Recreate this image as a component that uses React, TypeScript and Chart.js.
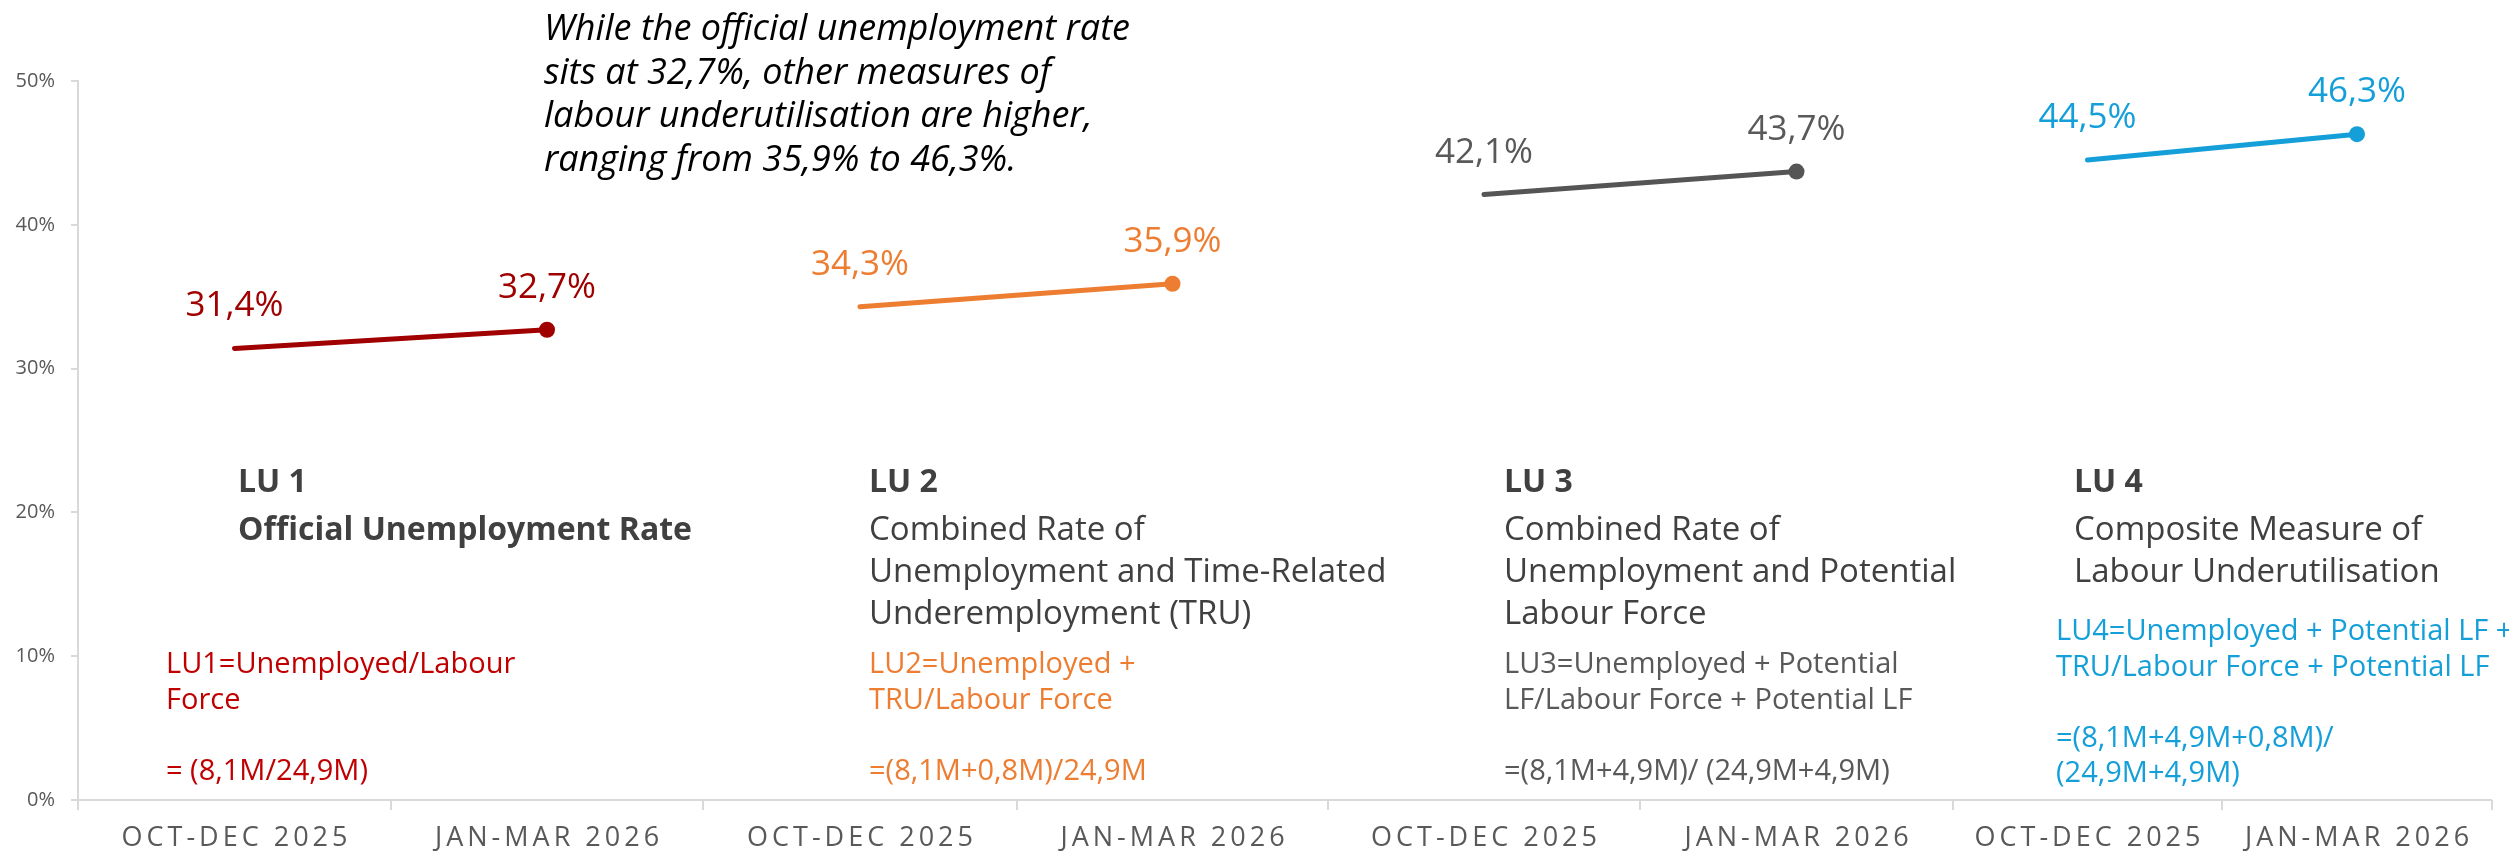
import React, { useEffect, useRef } from 'react';
import { Chart, CategoryScale, registerables } from 'chart.js';

// ---------------- data ----------------
const categories = [
  'OCT-DEC 2025', 'JAN-MAR 2026',
  'OCT-DEC 2025', 'JAN-MAR 2026',
  'OCT-DEC 2025', 'JAN-MAR 2026',
  'OCT-DEC 2025', 'JAN-MAR 2026',
];
const lu1Values = [31.4, 32.7, null, null, null, null, null, null];
const lu2Values = [null, null, 34.3, 35.9, null, null, null, null];
const lu3Values = [null, null, null, null, 42.1, 43.7, null, null];
const lu4Values = [null, null, null, null, null, null, 44.5, 46.3];
const yTickValues = [0, 10, 20, 30, 40, 50];

const seriesNames = ['LU 1', 'LU 2', 'LU 3', 'LU 4'];
const seriesSubtitles = [
  ['Official Unemployment Rate'],
  ['Combined Rate of', 'Unemployment and Time-Related', 'Underemployment (TRU)'],
  ['Combined Rate of', 'Unemployment and Potential', 'Labour Force'],
  ['Composite Measure of', 'Labour Underutilisation'],
];
const seriesFormulas = [
  ['LU1=Unemployed/Labour', 'Force', '', '= (8,1M/24,9M)'],
  ['LU2=Unemployed +', 'TRU/Labour Force', '', '=(8,1M+0,8M)/24,9M'],
  ['LU3=Unemployed + Potential', 'LF/Labour Force + Potential LF', '', '=(8,1M+4,9M)/ (24,9M+4,9M)'],
  ['LU4=Unemployed + Potential LF +', 'TRU/Labour Force + Potential LF', '', '=(8,1M+4,9M+0,8M)/', '(24,9M+4,9M)'],
];
const annotationLines = [
  'While the official unemployment rate',
  'sits at 32,7%, other measures of',
  'labour underutilisation are higher,',
  'ranging from 35,9% to 46,3%.',
];

// ---------------- styles / layout ----------------
const FONT = '"Open Sans", "Noto Sans", sans-serif';
const lineColors = ['#a00000', '#ed7d31', '#555555', '#149fd9'];
const valueLabelColors = ['#a00000', '#ed7d31', '#595959', '#149fd9'];
const formulaColors = ['#c00000', '#ed7d31', '#595959', '#149fd9'];
const titleColor = '#404040';
const axisColor = '#d9d9d9';
const tickLabelColor = '#595959';
// relative widths of the 8 category slots (last panel is narrower)
const slotWeights = [313, 312, 314, 311, 312, 313, 269, 270];

// text block layout (canvas px)
const titleX = [238, 869, 1504, 2074];
const titleYs = [
  [483, 531],
  [483, 531, 573, 615],
  [483, 531, 573, 615],
  [483, 531, 573],
];
const formulaX = [166, 869, 1504, 2056];
const formulaTop = [665, 665, 665, 632];
const formulaStep = 35.5;
const annotationX = 544;
const annotationY0 = 30;
const annotationStep = 43.5;

class PanelCategoryScale extends CategoryScale {
  static id = 'panelCategory';
  static defaults = CategoryScale.defaults;
  getPixelForDecimal(decimal: number) {
    const w = slotWeights;
    const n = w.length;
    const total = w.reduce((a, b) => a + b, 0);
    const pos = decimal * n;
    const k = Math.min(n - 1, Math.max(0, Math.floor(pos)));
    let cum = 0;
    for (let i = 0; i < k; i++) cum += w[i];
    const u = (cum + (pos - k) * w[k]) / total;
    const self: any = this;
    return self._startPixel + u * self._length;
  }
}

Chart.register(...registerables, PanelCategoryScale);

const fmt = (v: number) => v.toFixed(1).replace('.', ',') + '%';

const overlayPlugin = {
  id: 'overlay',
  afterDatasetsDraw(chart: any) {
    const ctx = chart.ctx;
    const area = chart.chartArea;
    const xs = chart.scales.x;
    ctx.save();
    // x axis line + panel boundary ticks
    ctx.strokeStyle = axisColor;
    ctx.lineWidth = 2;
    ctx.beginPath();
    ctx.moveTo(area.left, area.bottom);
    ctx.lineTo(area.right, area.bottom);
    const n = categories.length;
    for (let k = 0; k <= n; k++) {
      const px = Math.round(xs.getPixelForDecimal(k / n));
      ctx.moveTo(px, area.bottom);
      ctx.lineTo(px, area.bottom + 10);
    }
    ctx.stroke();

    // x labels
    ctx.fillStyle = tickLabelColor;
    ctx.font = `27px ${FONT}`;
    (ctx as any).letterSpacing = '4px';
    ctx.textAlign = 'center';
    ctx.textBaseline = 'middle';
    categories.forEach((c, i) => {
      ctx.fillText(c, xs.getPixelForValue(i) + 2, area.bottom + 38);
    });
    (ctx as any).letterSpacing = '0px';

    // value labels
    ctx.font = `35px ${FONT}`;
    chart.data.datasets.forEach((ds: any, di: number) => {
      const meta = chart.getDatasetMeta(di);
      ds.data.forEach((v: number | null, i: number) => {
        if (v === null) return;
        const el = meta.data[i];
        ctx.fillStyle = valueLabelColors[di];
        ctx.fillText(fmt(v), el.x, el.y - 42);
      });
    });

    // titles
    ctx.textAlign = 'left';
    seriesNames.forEach((name, si) => {
      const ys = titleYs[si];
      ctx.fillStyle = titleColor;
      ctx.font = `bold 32px ${FONT}`;
      ctx.fillText(name, titleX[si], ys[0]);
      ctx.font = si === 0 ? `bold 32px ${FONT}` : `33px ${FONT}`;
      seriesSubtitles[si].forEach((line, li) => {
        ctx.fillText(line, titleX[si], ys[li + 1]);
      });
    });

    // formulas
    ctx.font = `29px ${FONT}`;
    seriesFormulas.forEach((lines, si) => {
      ctx.fillStyle = formulaColors[si];
      lines.forEach((line, li) => {
        if (!line) return;
        ctx.fillText(line, formulaX[si], formulaTop[si] + li * formulaStep);
      });
    });

    // annotation
    ctx.fillStyle = '#000000';
    ctx.font = `italic 36px ${FONT}`;
    annotationLines.forEach((line, li) => {
      ctx.fillText(line, annotationX, annotationY0 + li * annotationStep);
    });
    ctx.restore();
  },
};

export default function App() {
  const ref = useRef<HTMLCanvasElement | null>(null);
  useEffect(() => {
    document.body.style.margin = '0';
    const canvas = ref.current!;
    const series = [lu1Values, lu2Values, lu3Values, lu4Values];
    const chart = new Chart(canvas, {
      type: 'line',
      data: {
        labels: categories,
        datasets: series.map((vals, si) => ({
          label: seriesNames[si],
          data: vals,
          borderColor: lineColors[si],
          backgroundColor: lineColors[si],
          pointBackgroundColor: lineColors[si],
          borderWidth: 5,
          borderCapStyle: 'round',
          pointBorderWidth: 0,
          pointRadius: (c: any) => {
            const d = c.dataset.data;
            let last = -1;
            d.forEach((v: any, i: number) => { if (v !== null) last = i; });
            return c.dataIndex === last ? 8 : 0;
          },
          spanGaps: false,
          tension: 0,
        })),
      },
      options: {
        responsive: false,
        maintainAspectRatio: false,
        animation: false,
        layout: { padding: { top: 81, right: 17, bottom: 56, left: 0 } },
        plugins: { legend: { display: false }, tooltip: { enabled: false } },
        scales: {
          x: {
            type: 'panelCategory',
            offset: true,
            grid: { display: false, drawTicks: false },
            border: { display: false },
            ticks: { display: false },
          },
          y: {
            min: 0,
            max: 50,
            afterBuildTicks: (s: any) => { s.ticks = yTickValues.map((v) => ({ value: v })); },
            ticks: {
              callback: (v: any) => v + '%',
              padding: 16,
              color: tickLabelColor,
              font: { family: FONT, size: 20 },
            },
            grid: { drawOnChartArea: false, drawTicks: true, tickLength: 7, color: axisColor, lineWidth: 2 },
            border: { display: true, color: axisColor, width: 2 },
            afterFit: (s: any) => { s.width = 78; },
          },
        },
      } as any,
      plugins: [overlayPlugin],
    });
    return () => chart.destroy();
  }, []);
  return <canvas ref={ref} width={2509} height={856} style={{ display: 'block' }} />;
}
